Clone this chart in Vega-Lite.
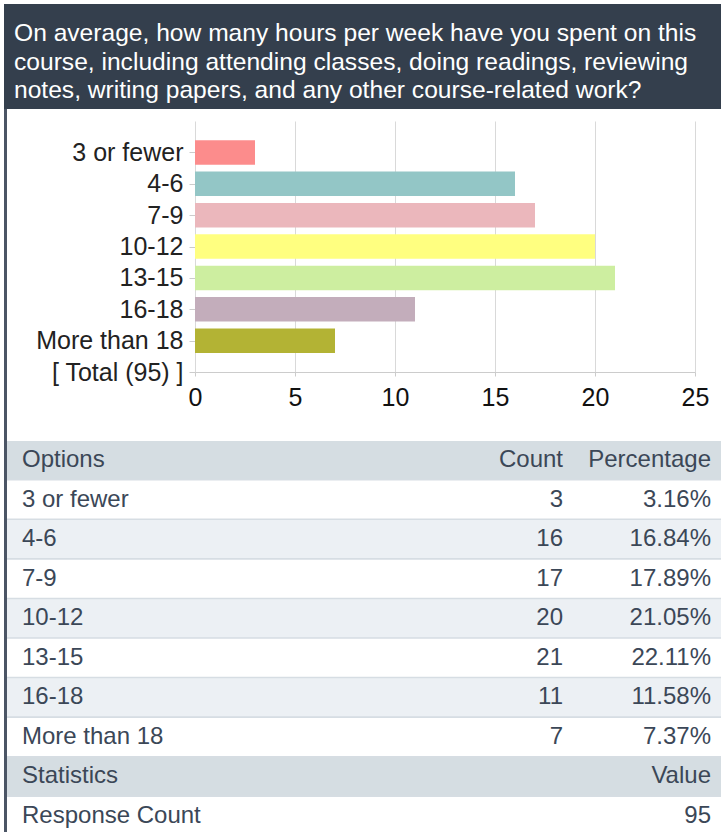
{
  "$schema": "https://vega.github.io/schema/vega-lite/v6.json",
  "background": "white",
  "padding": {"left": 4, "top": 4, "right": 0, "bottom": 0},
  "spacing": 0,
  "resolve": {"scale": {"color": "independent"}},
  "config": {
    "view": {"stroke": null},
    "font": "Liberation Sans",
    "concat": {"spacing": 0}
  },
  "datasets": {
    "title": [
      {"line": 1, "text": "On average, how many hours per week have you spent on this"},
      {"line": 2, "text": "course, including attending classes, doing readings, reviewing"},
      {"line": 3, "text": "notes, writing papers, and any other course-related work?"}
    ],
    "options": [
      {"option": "3 or fewer", "count": 3, "pct": 0.0316},
      {"option": "4-6", "count": 16, "pct": 0.1684},
      {"option": "7-9", "count": 17, "pct": 0.1789},
      {"option": "10-12", "count": 20, "pct": 0.2105},
      {"option": "13-15", "count": 21, "pct": 0.2211},
      {"option": "16-18", "count": 11, "pct": 0.1158},
      {"option": "More than 18", "count": 7, "pct": 0.0737}
    ],
    "rows": [
      {"row": "Options", "kind": "head"},
      {"row": "3 or fewer", "kind": "odd"},
      {"row": "4-6", "kind": "even"},
      {"row": "7-9", "kind": "odd"},
      {"row": "10-12", "kind": "even"},
      {"row": "13-15", "kind": "odd"},
      {"row": "16-18", "kind": "even"},
      {"row": "More than 18", "kind": "odd"},
      {"row": "Statistics", "kind": "head"},
      {"row": "Response Count", "kind": "odd"}
    ],
    "heads": [
      {"row": "Options", "countText": "Count", "pctText": "Percentage"},
      {"row": "Statistics", "pctText": "Value"},
      {"row": "Response Count", "pctText": "95"}
    ]
  },
  "vconcat": [
    {
      "width": 717,
      "height": 105,
      "view": {"fill": "#343f4d", "stroke": null},
      "data": {"name": "title"},
      "mark": {"type": "text", "align": "left", "baseline": "middle", "color": "#ffffff", "fontSize": 24.6},
      "encoding": {
        "y": {"field": "line", "type": "ordinal", "axis": null, "scale": {"type": "point", "padding": 0.826, "align": 0.63}},
        "x": {"value": 10},
        "text": {"field": "text", "type": "nominal"}
      }
    },
    {
      "spacing": 0,
      "resolve": {"scale": {"color": "independent"}},
      "hconcat": [
        {
          "width": 3,
          "height": 727,
          "view": {"fill": "#4b5565", "stroke": null},
          "data": {"values": []},
          "mark": "point",
          "encoding": {}
        },
        {
          "spacing": 0,
          "resolve": {"scale": {"color": "independent"}},
          "vconcat": [
            {
              "width": 714,
              "height": 12,
              "data": {"values": []},
              "mark": "point",
              "encoding": {}
            },
            {
              "spacing": 0,
              "hconcat": [
                {
                  "width": 1,
                  "height": 251,
                  "data": {"values": []},
                  "mark": "point",
                  "encoding": {}
                },
                {
                  "width": 500,
                  "height": 251,
                  "data": {"name": "options"},
                  "mark": {"type": "bar", "height": 24.5},
                  "encoding": {
                    "y": {
                      "field": "option",
                      "type": "nominal",
                      "sort": null,
                      "scale": {
                        "type": "point",
                        "domain": ["3 or fewer", "4-6", "7-9", "10-12", "13-15", "16-18", "More than 18", "[ Total (95) ]"],
                        "padding": 0.5,
                        "align": 1
                      },
                      "axis": {
                        "title": null,
                        "domain": false,
                        "grid": false,
                        "ticks": true,
                        "tickColor": "#cccccc",
                        "tickSize": 6,
                        "labelPadding": 6,
                        "labelFontSize": 25,
                        "labelColor": "#222222",
                        "labelLimit": 300,
                        "minExtent": 187,
                        "maxExtent": 187
                      }
                    },
                    "x": {
                      "field": "count",
                      "type": "quantitative",
                      "scale": {"domain": [0, 25], "nice": false},
                      "axis": {
                        "title": null,
                        "values": [0, 5, 10, 15, 20, 25],
                        "grid": true,
                        "gridColor": "#d9d9d9",
                        "domainColor": "#cccccc",
                        "tickColor": "#cccccc",
                        "tickSize": 4,
                        "labelFontSize": 25,
                        "labelPadding": 9,
                        "labelColor": "#111111",
                        "labelFlush": false,
                        "minExtent": 69,
                        "maxExtent": 69
                      }
                    },
                    "color": {
                      "field": "option",
                      "type": "nominal",
                      "scale": {
                        "domain": ["3 or fewer", "4-6", "7-9", "10-12", "13-15", "16-18", "More than 18"],
                        "range": ["#fc8c8c", "#93c6c6", "#ebb7bc", "#ffff80", "#cdeea0", "#c3adbb", "#b3b334"]
                      },
                      "legend": null
                    }
                  }
                }
              ]
            },
            {
              "width": 714,
              "height": 394,
              "view": {"fill": "#d6dde3", "stroke": null},
              "layer": [
                {
                  "data": {"name": "rows"},
                  "mark": {"type": "rect"},
                  "encoding": {
                    "y": {
                      "field": "row",
                      "type": "nominal",
                      "sort": null,
                      "axis": null,
                      "scale": {
                        "type": "band",
                        "domain": ["Options", "3 or fewer", "4-6", "7-9", "10-12", "13-15", "16-18", "More than 18", "Statistics", "Response Count"],
                        "paddingInner": 0.04,
                        "paddingOuter": 0
                      }
                    },
                    "color": {
                      "field": "kind",
                      "type": "nominal",
                      "scale": {"domain": ["head", "odd", "even"], "range": ["#d5dde2", "#ffffff", "#ecf0f4"]},
                      "legend": null
                    }
                  }
                },
                {
                  "data": {"name": "rows"},
                  "mark": {"type": "text", "align": "left", "baseline": "middle", "fontSize": 24, "color": "#3b4757"},
                  "encoding": {
                    "y": {"field": "row", "type": "nominal", "sort": null, "axis": null},
                    "x": {"value": 15},
                    "text": {"field": "row", "type": "nominal"}
                  }
                },
                {
                  "data": {"name": "options"},
                  "mark": {"type": "text", "align": "right", "baseline": "middle", "fontSize": 24, "color": "#3b4757"},
                  "encoding": {
                    "y": {"field": "option", "type": "nominal", "sort": null, "axis": null},
                    "x": {"value": 556},
                    "text": {"field": "count", "type": "quantitative"}
                  }
                },
                {
                  "data": {"name": "options"},
                  "mark": {"type": "text", "align": "right", "baseline": "middle", "fontSize": 24, "color": "#3b4757"},
                  "encoding": {
                    "y": {"field": "option", "type": "nominal", "sort": null, "axis": null},
                    "x": {"value": 704},
                    "text": {"field": "pct", "type": "quantitative", "format": ".2%"}
                  }
                },
                {
                  "data": {"name": "heads"},
                  "transform": [{"filter": "datum.countText != null"}],
                  "mark": {"type": "text", "align": "right", "baseline": "middle", "fontSize": 24, "color": "#3b4757"},
                  "encoding": {
                    "y": {"field": "row", "type": "nominal", "sort": null, "axis": null},
                    "x": {"value": 556},
                    "text": {"field": "countText", "type": "nominal"}
                  }
                },
                {
                  "data": {"name": "heads"},
                  "mark": {"type": "text", "align": "right", "baseline": "middle", "fontSize": 24, "color": "#3b4757"},
                  "encoding": {
                    "y": {"field": "row", "type": "nominal", "sort": null, "axis": null},
                    "x": {"value": 704},
                    "text": {"field": "pctText", "type": "nominal"}
                  }
                }
              ]
            }
          ]
        }
      ]
    }
  ]
}
